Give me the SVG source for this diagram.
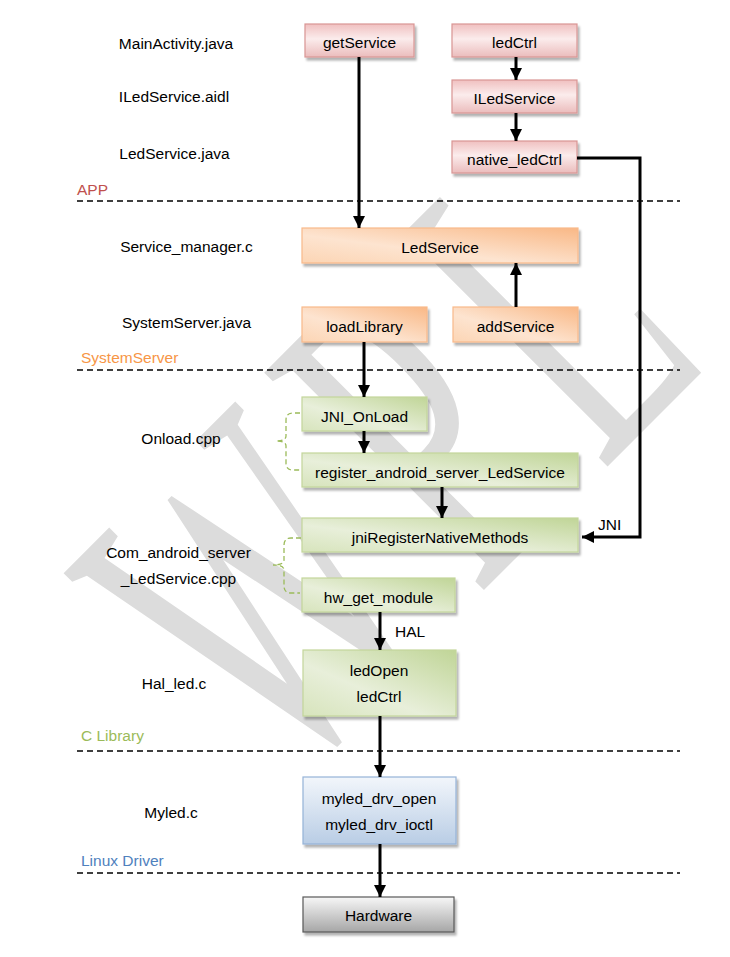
<svg xmlns="http://www.w3.org/2000/svg" width="730" height="957" viewBox="0 0 730 957">
<style>
.t{font-family:"Liberation Sans",Arial,sans-serif;font-size:15.5px;fill:#000;text-anchor:middle}
.lab{font-family:"Liberation Sans",Arial,sans-serif;font-size:15.5px;fill:#000;text-anchor:middle}
.layer{font-family:"Liberation Sans",Arial,sans-serif;font-size:15.5px}
.dash{stroke:#000;stroke-width:1.3;stroke-dasharray:6 4;fill:none}
.conn{stroke:#000;stroke-width:3;fill:none}
.brace{stroke:#9bbb59;stroke-width:1.3;stroke-dasharray:5 3;fill:none}
.pink{fill:url(#gPink);stroke:#d99694;stroke-width:1.2}
.orange{fill:url(#gOrange);stroke:#f9b98a;stroke-width:1.2}
.green{fill:url(#gGreen);stroke:#c3d69b;stroke-width:1.2}
.blue{fill:url(#gBlue);stroke:#95b3d7;stroke-width:1.2}
.gray{fill:url(#gGray);stroke:#595959;stroke-width:1.2}
</style>
<defs>
<linearGradient id="gPink" x1="0" y1="0" x2="0" y2="1">
<stop offset="0" stop-color="#f0c0c0"/><stop offset="0.45" stop-color="#fbecec"/><stop offset="1" stop-color="#ebbcbc"/>
</linearGradient>
<linearGradient id="gOrange" x1="1" y1="0" x2="0" y2="1">
<stop offset="0" stop-color="#f9b886"/><stop offset="0.6" stop-color="#fde4d0"/><stop offset="1" stop-color="#fcd5b4"/>
</linearGradient>
<linearGradient id="gGreen" x1="1" y1="0" x2="0" y2="1">
<stop offset="0" stop-color="#c0d597"/><stop offset="0.6" stop-color="#e8efda"/><stop offset="1" stop-color="#d7e4bc"/>
</linearGradient>
<linearGradient id="gBlue" x1="0" y1="0" x2="0" y2="1">
<stop offset="0" stop-color="#f2f6fb"/><stop offset="1" stop-color="#b9cde5"/>
</linearGradient>
<linearGradient id="gGray" x1="0" y1="0" x2="0" y2="1">
<stop offset="0" stop-color="#f7f7f7"/><stop offset="1" stop-color="#a6a6a6"/>
</linearGradient>
<filter id="sh" x="-10%" y="-20%" width="130%" height="160%">
<feDropShadow dx="2" dy="3" stdDeviation="1.2" flood-color="#000" flood-opacity="0.3"/>
</filter>
<marker id="ah" markerUnits="userSpaceOnUse" markerWidth="14" markerHeight="12" refX="12" refY="6" orient="auto">
<path d="M0,0 L12,6 L0,12 Z" fill="#000"/>
</marker>
</defs>

<rect width="730" height="957" fill="#fff"/>

<g id="watermark">
<text transform="translate(282,792) rotate(-45) scale(1,1.83)" font-family="'Liberation Serif',serif" font-size="258" fill="#dcdcdc" letter-spacing="33">WPL</text>
</g>

<g id="layers">
<text class="layer" x="77" y="195" fill="#c0504d">APP</text>
<text class="layer" x="81" y="363" fill="#f79646">SystemServer</text>
<text class="layer" x="81" y="741" fill="#9bbb59">C Library</text>
<text class="layer" x="81" y="866" fill="#4f81bd">Linux Driver</text>
<line class="dash" x1="77" y1="201" x2="680" y2="201"/>
<line class="dash" x1="77" y1="370" x2="680" y2="370"/>
<line class="dash" x1="77" y1="751" x2="680" y2="751"/>
<line class="dash" x1="77" y1="873" x2="680" y2="873"/>
</g>

<g id="filelabels">
<text class="lab" x="176" y="49">MainActivity.java</text>
<text class="lab" x="174" y="102">ILedService.aidl</text>
<text class="lab" x="174.5" y="159">LedService.java</text>
<text class="lab" x="186.5" y="252">Service_manager.c</text>
<text class="lab" x="186.5" y="328">SystemServer.java</text>
<text class="lab" x="181" y="444">Onload.cpp</text>
<text class="lab" x="178.5" y="558">Com_android_server</text>
<text class="lab" x="178.5" y="584">_LedService.cpp</text>
<text class="lab" x="174" y="689">Hal_led.c</text>
<text class="lab" x="171" y="818">Myled.c</text>
</g>

<g id="getService"><rect class="pink" x="305" y="24" width="109" height="33" filter="url(#sh)"/><text class="t" x="359.5" y="48">getService</text></g>
<g id="ledCtrl"><rect class="pink" x="452" y="24" width="125" height="33" filter="url(#sh)"/><text class="t" x="514.5" y="48">ledCtrl</text></g>
<g id="ILedService"><rect class="pink" x="452" y="80" width="125" height="33" filter="url(#sh)"/><text class="t" x="514.5" y="104">ILedService</text></g>
<g id="native_ledCtrl"><rect class="pink" x="452" y="141" width="125" height="32" filter="url(#sh)"/><text class="t" x="514.5" y="165">native_ledCtrl</text></g>

<g id="LedService"><rect class="orange" x="302" y="228" width="276" height="35" filter="url(#sh)"/><text class="t" x="440" y="253">LedService</text></g>
<g id="loadLibrary"><rect class="orange" x="302" y="307" width="125" height="35" filter="url(#sh)"/><text class="t" x="364.5" y="332">loadLibrary</text></g>
<g id="addService"><rect class="orange" x="453" y="307" width="125" height="35" filter="url(#sh)"/><text class="t" x="515.5" y="332">addService</text></g>

<g id="JNI_OnLoad"><rect class="green" x="302" y="397" width="125" height="34" filter="url(#sh)"/><text class="t" x="364.5" y="421.5">JNI_OnLoad</text></g>
<g id="register_android_server_LedService"><rect class="green" x="302" y="453" width="276" height="34" filter="url(#sh)"/><text class="t" x="440" y="477.5">register_android_server_LedService</text></g>
<g id="jniRegisterNativeMethods"><rect class="green" x="302" y="518" width="276" height="34" filter="url(#sh)"/><text class="t" x="440" y="542.5">jniRegisterNativeMethods</text></g>
<g id="hw_get_module"><rect class="green" x="302" y="578" width="153" height="34" filter="url(#sh)"/><text class="t" x="378.5" y="602.5">hw_get_module</text></g>
<g id="HalLed"><rect class="green" x="303" y="650" width="153" height="66" filter="url(#sh)"/><text class="t" x="379" y="676">ledOpen</text><text class="t" x="379" y="702">ledCtrl</text></g>

<g id="Myled"><rect class="blue" x="303" y="777" width="153" height="67" filter="url(#sh)"/><text class="t" x="379" y="804">myled_drv_open</text><text class="t" x="379" y="830">myled_drv_ioctl</text></g>
<g id="Hardware"><rect class="gray" x="303" y="897" width="151" height="35" filter="url(#sh)"/><text class="t" x="378.5" y="921">Hardware</text></g>

<g id="braces">
<path class="brace" d="M300,413 H293 Q286,413 286,420 V436 Q286,441 276,441 Q286,441 286,446 V463 Q286,470 293,470 H300"/>
<path class="brace" d="M301,538 H291 Q284,538 284,545 V560 Q284,565 273,565 Q284,565 284,570 V586 Q284,593 291,593 H300"/>
</g>

<g id="connectors">
<line class="conn" x1="359" y1="57" x2="359" y2="228" marker-end="url(#ah)"/>
<line class="conn" x1="516" y1="57" x2="516" y2="80" marker-end="url(#ah)"/>
<line class="conn" x1="516" y1="113" x2="516" y2="141" marker-end="url(#ah)"/>
<path class="conn" d="M577,158 H640 V537 H582" marker-end="url(#ah)"/>
<line class="conn" x1="516" y1="307" x2="516" y2="263" marker-end="url(#ah)"/>
<line class="conn" x1="364" y1="342" x2="364" y2="397" marker-end="url(#ah)"/>
<line class="conn" x1="364" y1="431" x2="364" y2="453" marker-end="url(#ah)"/>
<line class="conn" x1="442" y1="487" x2="442" y2="518" marker-end="url(#ah)"/>
<line class="conn" x1="380" y1="612" x2="380" y2="650" marker-end="url(#ah)"/>
<line class="conn" x1="380" y1="716" x2="380" y2="777" marker-end="url(#ah)"/>
<line class="conn" x1="380" y1="844" x2="380" y2="897" marker-end="url(#ah)"/>
<text class="layer" x="598" y="530">JNI</text>
<text class="layer" x="395" y="637">HAL</text>
</g>
</svg>
